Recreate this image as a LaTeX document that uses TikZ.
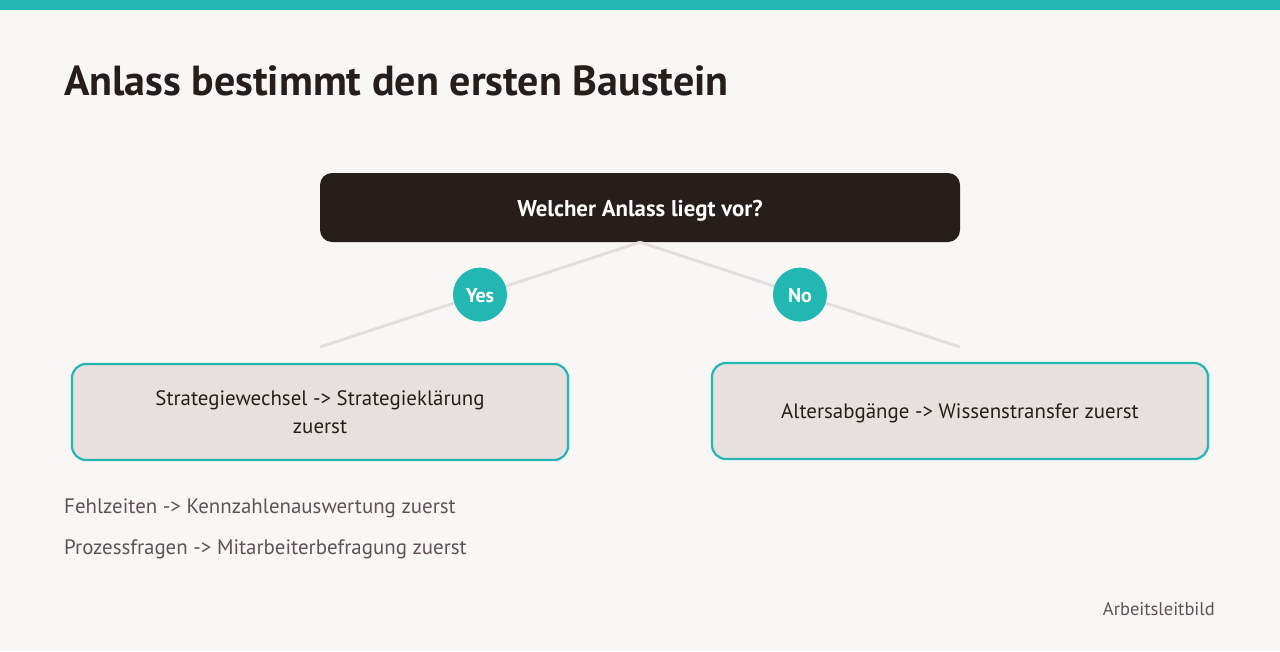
\documentclass[tikz,border=0pt]{standalone}
\usepackage{fontspec}
\setmainfont{PT Sans}
\usetikzlibrary{calc}
\definecolor{pagebg}{HTML}{F8F7F5}
\definecolor{accent}{HTML}{22B8B1}
\definecolor{ink}{HTML}{261E1A}
\definecolor{cardfill}{HTML}{E6E0DE}
\definecolor{linkgray}{HTML}{E3DEDB}
\definecolor{softtext}{HTML}{5E5450}

\begin{document}
\begin{tikzpicture}[x=1pt,y=-1pt,
        question/.style={rounded corners=12pt, fill=ink, text=white, minimum width=640pt, minimum height=69pt, text height=17pt, text depth=0pt, font=\bfseries\fontsize{22.8}{27}\selectfont},
        badge/.style={circle, fill=accent, text=white, minimum size=54pt, inner sep=0pt, text height=15pt, text depth=0pt, font=\bfseries\fontsize{20}{24}\selectfont},
        answer/.style={rounded corners=14pt, fill=cardfill, draw=accent, line width=2.2pt, minimum width=496pt, minimum height=96pt, align=center, text=ink, font=\fontsize{20.9}{28}\selectfont},
        link/.style={draw=linkgray, line width=3pt},
        note/.style={anchor=west, inner sep=0pt, text=softtext, font=\fontsize{20.9}{24}\selectfont}]
        \fill[pagebg] (0,0) rectangle (1280,651);
        \fill[accent] (0,0) rectangle (1280,10);

        \node[anchor=base west, inner sep=0pt, text=ink, font=\bfseries\fontsize{42}{50}\selectfont] (title) at (64,95) {Anlass bestimmt den ersten Baustein};

        \node[question] (q) at (640,207.5) {Welcher Anlass liegt vor?};
        \coordinate (yesend) at (320,347);
        \coordinate (noend) at (960,347);
        \draw[link] (q.south) -- (yesend);
        \draw[link] (q.south) -- (noend);
        \node[badge] (yes) at ($(q.south)!0.5!(yesend)$) {Yes};
        \node[badge] (no) at ($(q.south)!0.5!(noend)$) {No};

        \node[answer] (left) at (320,412) {Strategiewechsel -> Strategieklärung\\zuerst};
        \node[answer, text height=14pt, text depth=0pt] (right) at (960,411) {Altersabgänge -> Wissenstransfer zuerst};

        \node[note] (absence) at (64,508) {Fehlzeiten -> Kennzahlenauswertung zuerst};
        \node[note] (process) at (64,549) {Prozessfragen -> Mitarbeiterbefragung zuerst};
        \node[anchor=east, inner sep=0pt, text=softtext, font=\fontsize{18.5}{22}\selectfont] (brand) at (1215,609) {Arbeitsleitbild};
    \end{tikzpicture}
\end{document}
